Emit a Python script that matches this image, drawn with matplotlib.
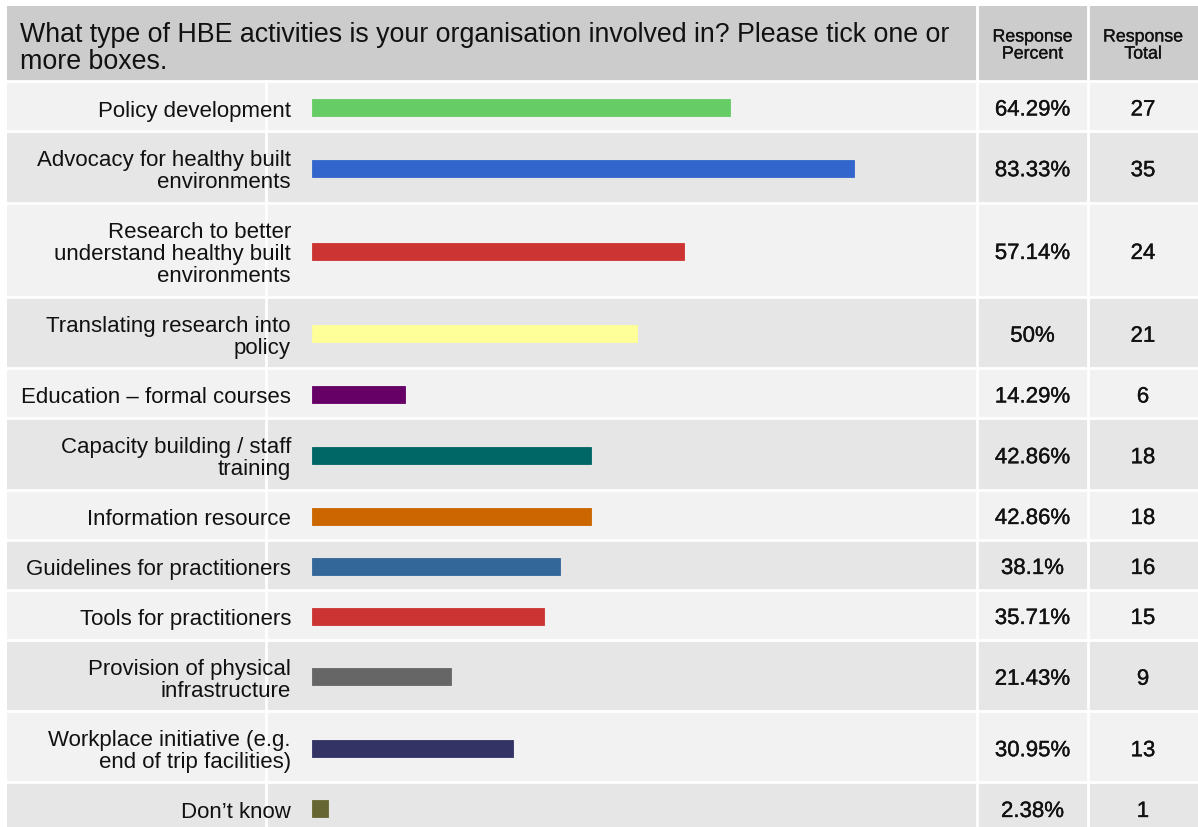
import matplotlib.pyplot as plt
import matplotlib.patheffects as pe
from matplotlib.patches import Rectangle

plt.rcParams["font.family"] = ["Liberation Sans", "DejaVu Sans"]

# Survey results
question = "What type of HBE activities is your organisation involved in? Please tick one or\nmore boxes."
categories = [
    "Policy development",
    "Advocacy for healthy built\nenvironments",
    "Research to better\nunderstand healthy built\nenvironments",
    "Translating research into\npolicy",
    "Education \u2013 formal courses",
    "Capacity building / staff\ntraining",
    "Information resource",
    "Guidelines for practitioners",
    "Tools for practitioners",
    "Provision of physical\ninfrastructure",
    "Workplace initiative (e.g.\nend of trip facilities)",
    "Don\u2019t know",
]
percent = [64.29, 83.33, 57.14, 50, 14.29, 42.86, 42.86, 38.1, 35.71, 21.43, 30.95, 2.38]
percent_labels = ["64.29%", "83.33%", "57.14%", "50%", "14.29%", "42.86%",
                  "42.86%", "38.1%", "35.71%", "21.43%", "30.95%", "2.38%"]
totals = [27, 35, 24, 21, 6, 18, 18, 16, 15, 9, 13, 1]
bar_colors = ["#66cc66", "#3366cc", "#cc3333", "#ffff99", "#660066", "#006666",
              "#cc6600", "#336699", "#cc3333", "#666666", "#333366", "#666633"]

W, H = 1198, 828
fig = plt.figure(figsize=(W / 100, H / 100), dpi=100)
fig.patch.set_facecolor("white")

# background axes in pixel units
ax = fig.add_axes([0, 0, 1, 1])
ax.set_xlim(0, W)
ax.set_ylim(H, 0)
ax.axis("off")

left = 7
col_label = 266
col_pct = 977
col_tot = 1088
head_top, head_bot = 7, 82
ink = "#111111"
num_fx = [pe.withStroke(linewidth=0.25, foreground=ink)]
head_fx = [pe.withStroke(linewidth=0.2, foreground=ink)]

# header
ax.add_patch(Rectangle((left, head_top), W - left, head_bot - head_top, color="#cccccc", lw=0))
for i, line in enumerate(question.split("\n")):
    ax.text(20, 35 + i * 27, line, fontsize=19.3, color=ink, va="center", ha="left")
for cx, word in [((col_pct + col_tot) / 2, "Percent"), ((col_tot + W) / 2, "Total")]:
    ax.text(cx, 38, "Response", fontsize=12.8, ha="center", va="center", color=ink,
            path_effects=head_fx)
    ax.text(cx, 55, word, fontsize=12.8, ha="center", va="center", color=ink,
            path_effects=head_fx)

# rows: height grows with the number of label lines
row_h = {1: 50, 2: 71.5, 3: 94}
edges = [head_bot]
for c in categories:
    edges.append(edges[-1] + row_h[c.count("\n") + 1])
centers = [(edges[i] + edges[i + 1]) / 2 for i in range(len(categories))]

dy = 4
for i, c in enumerate(categories):
    fc = "#f2f2f2" if i % 2 == 0 else "#e6e6e6"
    ax.add_patch(Rectangle((left, edges[i]), W - left, edges[i + 1] - edges[i], color=fc, lw=0))
    ax.plot([left, W], [edges[i], edges[i]], color="white", lw=2)
    lines = c.split("\n")
    n = len(lines)
    for j, line in enumerate(lines):
        y = centers[i] + dy + (j - (n - 1) / 2) * 22
        ax.text(291, y, line, fontsize=16, ha="right", va="center", color=ink)
    ax.text((col_pct + col_tot) / 2, centers[i] + dy, percent_labels[i], fontsize=16,
            ha="center", va="center", color=ink, path_effects=num_fx)
    ax.text((col_tot + W) / 2, centers[i] + dy, str(totals[i]), fontsize=16,
            ha="center", va="center", color=ink, path_effects=num_fx)

ax.plot([col_label, col_label], [head_bot, H], color="white", lw=2)
for x in (col_pct, col_tot):
    ax.plot([x, x], [head_top, H], color="white", lw=2)

# bar column: x in percent, y shared with pixel rows
bx = fig.add_axes([col_label / W, 0, (col_pct - col_label) / W, 1])
bx.set_xlim(-7.1, 102.3)
bx.set_ylim(H, 0)
bx.axis("off")
bx.patch.set_alpha(0)
bx.barh([y + 1.5 for y in centers], percent, height=17, left=0, color=bar_colors,
        edgecolor=bar_colors, linewidth=0.6)

fig.savefig("out.png", dpi=100)
